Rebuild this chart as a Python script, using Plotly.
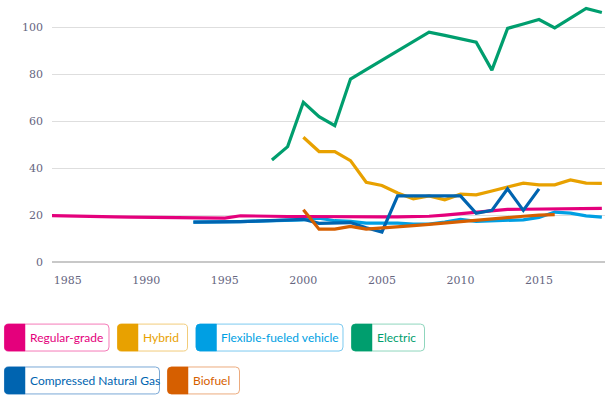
import plotly.graph_objects as go

years = list(range(1984, 2020))

regular = [19.8, 19.6, 19.3, 19.1, 19.2, 19.1, 19.0, 18.8, 18.7, 18.9, 18.8, 18.7,
           19.7, 19.5, 19.5, 19.4, 19.4, 19.3, 19.2, 19.1, 19.2, 19.2, 19.2, 19.3,
           19.5, 20.0, 20.6, 21.1, 21.6, 22.4, 22.5, 22.6, 22.7, 22.8, 22.9, 22.9]

hybrid_years = list(range(2000, 2020))
hybrid = [53.2, 47.1, 47.1, 43.2, 34.0, 32.6, 29.4, 26.9, 28.2, 26.5, 28.9, 28.6,
          30.3, 31.9, 33.6, 32.9, 32.9, 35.0, 33.6, 33.5]

flex_years = list(range(1993, 2020))
flex = [17.0, 17.0, 17.0, 17.2, 17.4, 17.6, 17.8, 18.0, 18.7, 17.6, 17.3, 16.6,
        16.6, 16.6, 16.2, 16.2, 17.0, 18.2, 17.3, 17.6, 17.8, 18.0, 19.0, 21.3,
        20.8, 19.7, 19.1]

electric_years = list(range(1998, 2020))
electric = [43.5, 49.2, 68.1, 62.0, 58.1, 78.0, 82.0, 86.0, 90.0, 94.0, 98.0, 96.6,
            95.2, 93.7, 81.8, 99.6, 101.5, 103.4, 99.8, 103.8, 108.1, 106.4]

cng_years = list(range(1993, 2016))
cng = [17.0, 17.0, 17.0, 17.2, 17.4, 17.6, 17.8, 18.2, 16.5, 16.5, 16.8, 14.6,
       12.8, 28.2, 28.2, 28.2, 28.2, 28.2, 20.8, 22.0, 31.2, 22.0, 31.2]

biofuel_years = list(range(2000, 2017))
biofuel = [22.3, 14.0, 14.0, 15.2, 14.0, 14.6, 15.0, 15.5, 16.0, 16.6, 17.3, 18.0,
           18.4, 19.0, 19.5, 20.0, 20.2]

series_names = ["Regular-grade", "Hybrid", "Flexible-fueled vehicle", "Electric",
                "Compressed Natural Gas", "Biofuel"]
colors = {"Regular-grade": "#e4007c", "Hybrid": "#e8a100", "Flexible-fueled vehicle": "#009fe3",
          "Electric": "#009e6e", "Compressed Natural Gas": "#0064b0", "Biofuel": "#d65f00"}
borders = {"Regular-grade": "#f57bb8", "Hybrid": "#f2cc7a", "Flexible-fueled vehicle": "#7ccaf0",
           "Electric": "#8fd6bd", "Compressed Natural Gas": "#7aa8d6", "Biofuel": "#ecab7e"}

x_ticks = [1985, 1990, 1995, 2000, 2005, 2010, 2015]
y_ticks = [0, 20, 40, 60, 80, 100]

data = {
    "Flexible-fueled vehicle": (flex_years, flex),
    "Regular-grade": (years, regular),
    "Hybrid": (hybrid_years, hybrid),
    "Electric": (electric_years, electric),
    "Biofuel": (biofuel_years, biofuel),
    "Compressed Natural Gas": (cng_years, cng),
}

W, H = 609, 395
L, R, T, B = 52, 605, 3.8, 262.3

fig = go.Figure()
for name in ["Flexible-fueled vehicle", "Regular-grade", "Electric", "Hybrid",
             "Compressed Natural Gas", "Biofuel"]:
    xs, ys = data[name]
    fig.add_trace(go.Scatter(x=xs, y=ys, mode="lines", name=name,
                             line=dict(color=colors[name], width=3.2),
                             showlegend=False, hoverinfo="skip"))

def px2paper(px, py):
    return (px - L) / (R - L), (B - py) / (B - T)

def rounded_path(x0, y0, x1, y1, r, corners=(True, True, True, True)):
    tl, tr, br, bl = corners
    def P(x, y):
        a, b = px2paper(x, y)
        return f"{a:.5f},{b:.5f}"
    d = "M" + P(x0 + (r if tl else 0), y0)
    d += " L" + P(x1 - (r if tr else 0), y0)
    if tr:
        d += " Q" + P(x1, y0) + " " + P(x1, y0 + r)
    d += " L" + P(x1, y1 - (r if br else 0))
    if br:
        d += " Q" + P(x1, y1) + " " + P(x1 - r, y1)
    d += " L" + P(x0 + (r if bl else 0), y1)
    if bl:
        d += " Q" + P(x0, y1) + " " + P(x0, y1 - r)
    d += " L" + P(x0, y0 + (r if tl else 0))
    if tl:
        d += " Q" + P(x0, y0) + " " + P(x0 + r, y0)
    d += " Z"
    return d

legend_boxes = [
    ("Regular-grade", 4.5, 109, 324.5, 351.5),
    ("Hybrid", 117.5, 187.5, 324.5, 351.5),
    ("Flexible-fueled vehicle", 196, 343, 324.5, 351.5),
    ("Electric", 351.5, 424.5, 324.5, 351.5),
    ("Compressed Natural Gas", 4.5, 159.5, 367.5, 394.5),
    ("Biofuel", 167.5, 239.5, 367.5, 394.5),
]

shapes = []
annotations = []
for name, x0, x1, y0, y1 in legend_boxes:
    shapes.append(dict(type="path", xref="paper", yref="paper",
                       path=rounded_path(x0, y0, x1, y1, 4),
                       line=dict(color=borders[name], width=1), fillcolor="white",
                       layer="above"))
    shapes.append(dict(type="path", xref="paper", yref="paper",
                       path=rounded_path(x0, y0, x0 + 20.5, y1, 4, (True, False, False, True)),
                       line=dict(color=colors[name], width=0.5), fillcolor=colors[name],
                       layer="above"))
    ax, ay = px2paper(x0 + 23, (y0 + y1) / 2)
    annotations.append(dict(text=name, xref="paper", yref="paper", x=ax, y=ay,
                            xanchor="left", yanchor="middle", showarrow=False,
                            font=dict(family="Lato", size=12, color=colors[name])))

fig.update_layout(
    width=W, height=H,
    margin=dict(l=L, r=W - R, t=T, b=H - B, autoexpand=False),
    plot_bgcolor="white", paper_bgcolor="white",
    shapes=shapes, annotations=annotations,
    xaxis=dict(range=[1984, 2019.2], tickvals=x_ticks, showgrid=False, zeroline=False,
               showline=False, ticks="", automargin=False, ticklabelstandoff=10,
               tickfont=dict(family="DejaVu Serif", size=11, color="#66667f")),
    yaxis=dict(range=[0, 110], tickvals=y_ticks, showgrid=True, gridcolor="#dedede", gridwidth=1,
               zeroline=True, zerolinecolor="#c8c8c8", zerolinewidth=2, ticks="",
               ticklabelstandoff=8, automargin=False,
               tickfont=dict(family="DejaVu Serif", size=11, color="#66667f")),
)

fig.write_html("out.html", config={"displayModeBar": False},
               post_script="document.body.style.margin='0';document.body.style.overflow='hidden';")
